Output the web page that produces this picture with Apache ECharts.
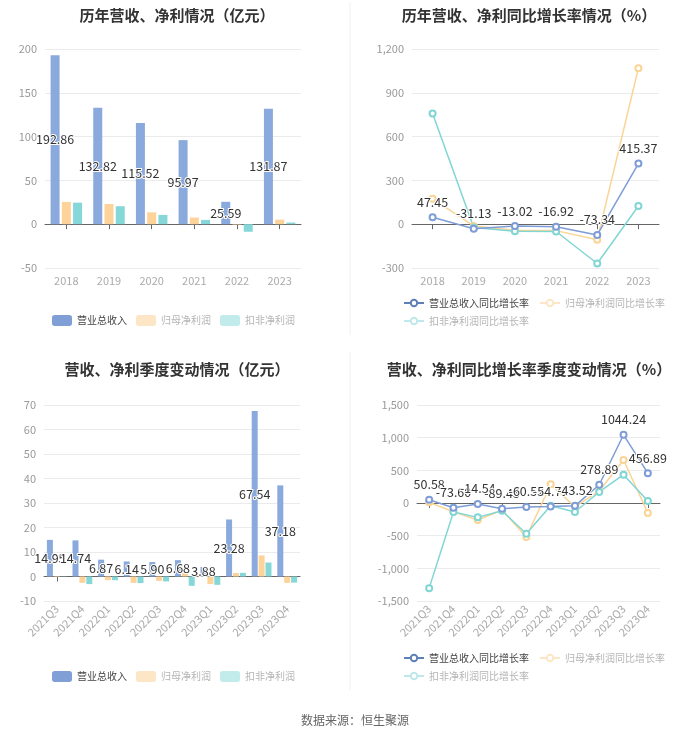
<!DOCTYPE html>
<html><head><meta charset="utf-8">
<script src="https://cdn.jsdelivr.net/npm/echarts@6/dist/echarts.min.js"></script>
<style>html,body{margin:0;padding:0;background:#fff}#c{width:700px;height:734px}</style>
</head><body><div id="c"></div>
<script>
const years = ['2018','2019','2020','2021','2022','2023'];
const revYear = [192.86, 132.82, 115.52, 95.97, 25.59, 131.87];
const npYear = [25.4, 23.1, 13.6, 7.6, -0.5, 5.2];
const npDedYear = [24.6, 20.5, 10.6, 4.9, -8.6, 1.9];
const revYearGr = [47.45, -31.13, -13.02, -16.92, -73.34, 415.37];
const npYearGr = [174, -12, -41, -44, -106, 1069];
const npDedYearGr = [758, -23, -48, -50, -269, 125];

const quarters = ['2021Q3','2021Q4','2022Q1','2022Q2','2022Q3','2022Q4','2023Q1','2023Q2','2023Q3','2023Q4'];
const revQ = [14.95, 14.74, 6.87, 6.14, 5.90, 6.68, 3.88, 23.28, 67.54, 37.18];
const npQ = [0.2, -2.6, -1.5, -2.6, -1.8, 1.5, -3.1, 1.4, 8.6, -2.6];
const npDedQ = [-0.1, -3.1, -1.5, -2.7, -2.0, -3.8, -3.4, 1.5, 5.7, -2.5];
const revQGr = [50.58, -73.60, -14.54, -89.45, -60.52, -54.71, -43.52, 278.89, 1044.24, 456.89];
const npQGr = [10, -135, -261, -107, -521, 286, -60, 184, 659, -153];
const npDedQGr = [-1303, -138, -220, -118, -470, -41, -138, 169, 434, 31];

const C_BLUE = '#8aa9dc', C_ORANGE = '#fdd39a', C_CYAN = '#86d7d8';
const L_BLUE = '#7e9dd6', L_ORANGE = '#fbd495', L_CYAN = '#80d6d4';
const FONT = '"Noto Sans CJK SC", "Noto Sans", sans-serif';

const chart = echarts.init(document.getElementById('c'), null, {renderer:'canvas'});

const grids = [
  {left:45, top:49, width:256, height:219},
  {left:412, top:49, width:247, height:219},
  {left:44, top:405, width:256, height:196},
  {left:417, top:405, width:243, height:196}
];
const cats = [years, years, quarters, quarters];
const xAxes = [], yAxes = [];
cats.forEach((c, i) => {
  const rot = i >= 2;
  xAxes.push({type:'category', gridIndex:i, data:c, position:'bottom',
    axisLine:{onZero:true, lineStyle:{color:'#666'}},
    axisTick:{show:true, alignWithLabel:true, length:5, lineStyle:{color:'#666'}},
    axisLabel:{show:false}, splitLine:{show:false}});
  xAxes.push({type:'category', gridIndex:i, data:c, position:'bottom',
    axisLine:{show:false, onZero:false}, axisTick:{show:false},
    axisLabel:{color:'#aaa', fontSize:11, rotate:rot?45:0, margin:rot?6:7, fontFamily:FONT, interval:0}});
});
const yCfg = [
  {min:-50, max:200, interval:50},
  {min:-300, max:1200, interval:300},
  {min:-10, max:70, interval:10},
  {min:-1500, max:1500, interval:500}
];
yCfg.forEach((y, i) => {
  yAxes.push(Object.assign({type:'value', gridIndex:i,
    axisLine:{show:false}, axisTick:{show:false},
    axisLabel:{color:'#999', fontSize:11, fontFamily:FONT,
      formatter: v => Math.abs(v) >= 1000 ? (v<0?'-':'') + Math.abs(v).toLocaleString('en-US') : String(v)},
    splitLine:{lineStyle:{color:'#ebebeb'}}}, y));
});

const barLabel = {show:true, position:'inside', color:'#333', fontSize:12.5, fontFamily:FONT,
  textBorderColor:'#fff', textBorderWidth:2, formatter: p => p.value.toFixed(2)};
const lineLabel = {show:true, position:'top', color:'#333', fontSize:12.5, fontFamily:FONT,
  textBorderColor:'#fff', textBorderWidth:2, formatter: p => p.value.toFixed(2)};

function bars(gi, rev, np, ded, bw, gap){
  const xi = gi*2;
  return [
    {name:'营业总收入', type:'bar', xAxisIndex:xi, yAxisIndex:gi, data:rev, barWidth:bw, barGap:gap,
      itemStyle:{color:C_BLUE}, label:barLabel, z:2},
    {name:'归母净利润', type:'bar', xAxisIndex:xi, yAxisIndex:gi, data:np, barWidth:bw, barGap:gap,
      itemStyle:{color:C_ORANGE}, z:2},
    {name:'扣非净利润', type:'bar', xAxisIndex:xi, yAxisIndex:gi, data:ded, barWidth:bw, barGap:gap,
      itemStyle:{color:C_CYAN}, z:2}
  ];
}
function lines(gi, rev, np, ded){
  const xi = gi*2;
  const mk = (name, d, col, lab) => ({name, type:'line', xAxisIndex:xi, yAxisIndex:gi, data:d,
    symbol:'emptyCircle', symbolSize:6, lineStyle:{color:col, width:1.5},
    itemStyle:{color:col, borderWidth:1.5}, label: lab ? lineLabel : {show:false}, z: lab?4:3});
  return [
    mk('营业总收入同比增长率', rev, L_BLUE, true),
    mk('归母净利润同比增长率', np, L_ORANGE, false),
    mk('扣非净利润同比增长率', ded, L_CYAN, false)
  ];
}

const barLegendData = [
  {name:'营业总收入', itemStyle:{color:'#7f9fd6'}, textStyle:{color:'#444'}},
  {name:'归母净利润', itemStyle:{color:'#fde6c6'}, textStyle:{color:'#b5b5b5'}},
  {name:'扣非净利润', itemStyle:{color:'#c2ecec'}, textStyle:{color:'#b5b5b5'}}
];
const lineLegendRow1 = [
  {name:'营业总收入同比增长率', textStyle:{color:'#444'}, itemStyle:{color:'#5f7fb8', borderColor:'#5f7fb8'}, lineStyle:{color:'#5f7fb8'}},
  {name:'归母净利润同比增长率', textStyle:{color:'#b5b5b5'}, itemStyle:{color:'#fde6c6', borderColor:'#fde6c6'}, lineStyle:{color:'#fde6c6'}}
];
const lineLegendRow2 = [
  {name:'扣非净利润同比增长率', textStyle:{color:'#b5b5b5'}, itemStyle:{color:'#bfe8ea', borderColor:'#bfe8ea'}, lineStyle:{color:'#bfe8ea'}}
];
const legBase = {textStyle:{fontSize:10, fontFamily:FONT}, selectedMode:false, padding:0};

const titleStyle = {fontSize:15, fontWeight:'bold', color:'#333', fontFamily:FONT};

function lineLegends(top){
  return [
    Object.assign({data:lineLegendRow1, left:403, top:top, itemWidth:20, itemHeight:8, itemGap:10}, legBase),
    Object.assign({data:lineLegendRow2, left:403, top:top+18, itemWidth:20, itemHeight:8, itemGap:10}, legBase)
  ];
}

chart.setOption({
  animation:false,
  textStyle:{fontFamily:FONT},
  title:[
    {text:'历年营收、净利情况（亿元）', left:172, top:3, textAlign:'center', textStyle:titleStyle},
    {text:'历年营收、净利同比增长率情况（%）', left:524, top:3, textAlign:'center', textStyle:titleStyle},
    {text:'营收、净利季度变动情况（亿元）', left:172, top:357, textAlign:'center', textStyle:titleStyle},
    {text:'营收、净利同比增长率季度变动情况（%）', left:524, top:357, textAlign:'center', textStyle:titleStyle},
    {text:'数据来源：恒生聚源', left:350, top:709, textAlign:'center', textStyle:{fontSize:12, fontWeight:'normal', color:'#666', fontFamily:FONT}}
  ],
  grid:grids,
  xAxis:xAxes,
  yAxis:yAxes,
  legend:[
    Object.assign({data:barLegendData, left:52, top:315, itemWidth:20, itemHeight:11, itemGap:9, icon:'roundRect'}, legBase),
    ...lineLegends(298),
    Object.assign({data:barLegendData, left:52, top:671, itemWidth:20, itemHeight:11, itemGap:9, icon:'roundRect'}, legBase),
    ...lineLegends(653)
  ],
  graphic:[
    {type:'line', shape:{x1:350, y1:2, x2:350, y2:335}, style:{stroke:'#f0f0f0', lineWidth:1}},
    {type:'line', shape:{x1:350, y1:352, x2:350, y2:690}, style:{stroke:'#f0f0f0', lineWidth:1}}
  ],
  series:[
    ...bars(0, revYear, npYear, npDedYear, 9, '25%'),
    ...lines(1, revYearGr, npYearGr, npDedYearGr),
    ...bars(2, revQ, npQ, npDedQ, 6, '15%'),
    ...lines(3, revQGr, npQGr, npDedQGr)
  ]
});
</script></body></html>
